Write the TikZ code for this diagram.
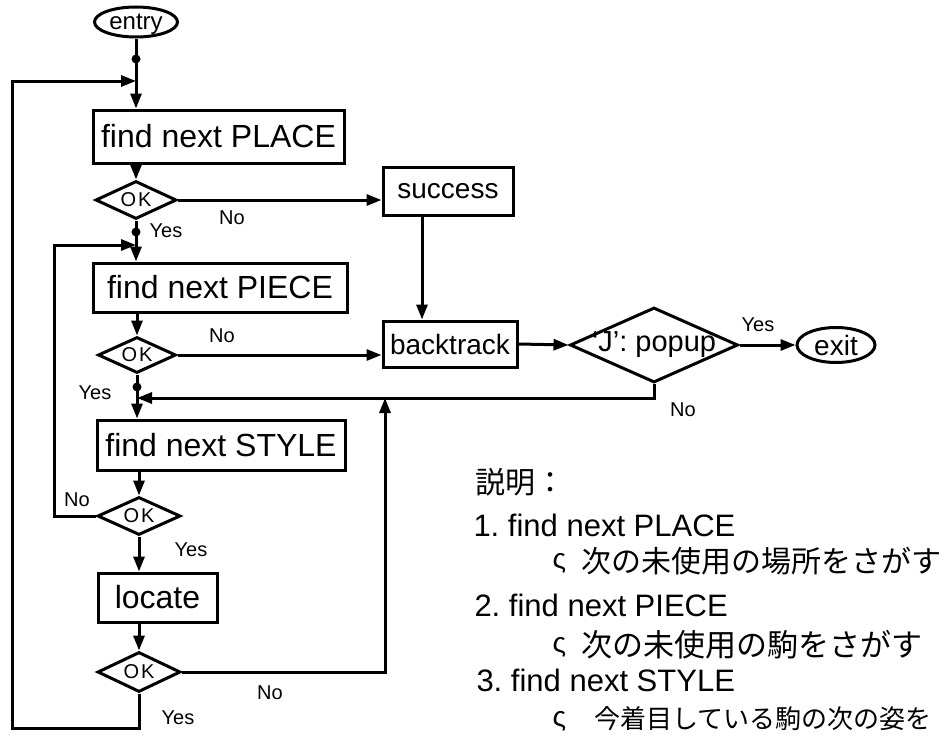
\documentclass[tikz,border=0pt]{standalone}
\usepackage{fontspec}
\setmainfont{Liberation Sans}
\newfontfamily\jpfont{Noto Sans CJK JP}
\usetikzlibrary{shapes.geometric,arrows.meta}
\begin{document}
\begin{tikzpicture}[x=1pt,y=-1pt,
  line width=3pt,
  >={Triangle[length=15pt,width=11pt]},
  box/.style={draw, rectangle, inner sep=0pt, font=\fontsize{32}{32}\selectfont},
  dec/.style={draw, diamond, inner sep=0pt},
  term/.style={draw, ellipse, inner sep=0pt},
  lab/.style={font=\fontsize{20}{20}\selectfont, inner sep=0pt},
  dotnode/.style={circle, fill, inner sep=0pt, minimum size=9pt},
  big/.style={font=\fontsize{31}{31}\selectfont, inner sep=0pt},
  oktext/.style={font=\fontsize{20}{20}\selectfont, inner sep=0pt},
]
\useasboundingbox[fill=white] (0,0) rectangle (940,736);

% main column
\node[term, minimum width=83pt, minimum height=30pt,
  label={[font=\fontsize{24}{24}\selectfont, inner sep=0pt, yshift=-2pt]center:entry}] (entry) at (136,22) {};
\node[dotnode] (c0) at (136,59) {};
\coordinate (j0) at (136,81);
\node[box, minimum width=251pt, minimum height=53pt] (place) at (218.5,136.5) {find next PLACE};
\node[dec, minimum width=81pt, minimum height=38pt,
  label={[oktext]center:O\kern2pt K}] (ok1) at (136,200) {};
\node[dotnode] (c1) at (136,232) {};
\coordinate (j1) at (136,245);
\node[box, minimum width=254pt, minimum height=49pt] (piece) at (220,287.5) {find next PIECE};
\node[dec, minimum width=78pt, minimum height=36pt,
  label={[oktext]center:O\kern2pt K}] (ok2) at (137,355) {};
\node[dotnode] (c2) at (137,387) {};
\coordinate (j2) at (137,398);
\node[box, minimum width=248pt, minimum height=50pt] (style) at (221,445) {find next STYLE};
\node[dec, minimum width=83pt, minimum height=38pt,
  label={[oktext]center:O\kern2pt K}] (ok3) at (139,516) {};
\node[box, minimum width=119pt, minimum height=49pt] (locate) at (157.5,597.5) {locate};
\node[dec, minimum width=83pt, minimum height=40pt,
  label={[oktext]center:O\kern2pt K}] (ok4) at (139,672) {};

% right part
\node[box, minimum width=130pt, minimum height=48pt, font=\fontsize{28}{28}\selectfont] (success) at (448,191) {success};
\node[box, minimum width=134pt, minimum height=46pt, font=\fontsize{28}{28}\selectfont] (backtrack) at (450,344) {backtrack};
\node[dec, minimum width=168pt, minimum height=75pt,
  label={[font=\fontsize{29}{29}\selectfont]center:{‘J’: popup}}] (popup) at (654,345) {};
\node[term, minimum width=78pt, minimum height=35pt,
  label={[font=\fontsize{28}{28}\selectfont]center:exit}] (exit) at (836,345) {};

\coordinate (outerL) at (12,728);
\coordinate (innerL) at (54,516);
\coordinate (upR) at (385,398);

% connectors
\draw (entry.south) -- (c0.center) -- (j0);
\draw[->] (j0) -- (j0 |- place.north);
\draw[->] (ok1.north |- place.south) -- (ok1.north);
\draw (ok1.south) -- (c1.center) -- (j1);
\draw[->] (j1) -- (j1 |- piece.north);
\draw[->] (ok2.north |- piece.south) -- (ok2.north);
\draw (ok2.south) -- (c2.center) -- (j2);
\draw[->] (j2) -- (j2 |- style.north);
\draw[->] (ok3.north |- style.south) -- (ok3.north);
\draw[->] (ok3.south) -- (ok3.south |- locate.north);
\draw[->] (ok4.north |- locate.south) -- (ok4.north);

\draw[->] (ok1.east) -- (ok1.east -| success.west);
\draw[->] ([xshift=-26pt]success.south) -- ([xshift=-26pt]success.south |- backtrack.north);
\draw[->] (ok2.east) -- (ok2.east -| backtrack.west);
\draw[->] (backtrack.east) -- (popup.west);
\draw[->] (popup.east) -- (exit.west);
\draw[->] (popup.south) |- (j2);

\draw[->] (ok3.west) -- (ok3.west -| innerL) |- (j1);
\draw[->] (ok4.east) -| (upR);
\draw[->] (ok4.south) |- (outerL) |- (j0);

% connector labels
\node[lab] (n1) at (232,218) {No};
\node[lab] (y1) at (166,231) {Yes};
\node[lab] (n2) at (222,336) {No};
\node[lab] (y2) at (95,393) {Yes};
\node[lab] (n3) at (77,500) {No};
\node[lab] (y3) at (191,550) {Yes};
\node[lab] (n4) at (270,693) {No};
\node[lab] (y4) at (178,718) {Yes};
\node[lab] (y5) at (758,325) {Yes};
\node[lab] (n5) at (683,410) {No};

% explanation
\node[anchor=west, inner sep=0pt, font=\jpfont\fontsize{30}{30}\selectfont] (title) at (474,482) {説明：};
\node[big, anchor=base west] (e1) at (472,536) {1.\ find next PLACE};
\node[anchor=west, inner sep=0pt, font=\fontsize{28}{28}\selectfont] (m1) at (551,563) {ς};
\node[anchor=west, inner sep=0pt, font=\jpfont\fontsize{30}{30}\selectfont] (d1) at (580,561) {次の未使用の場所をさがす};
\node[big, anchor=base west] (e2) at (473,616) {2.\ find next PIECE};
\node[anchor=west, inner sep=0pt, font=\fontsize{28}{28}\selectfont] (m2) at (551,647) {ς};
\node[anchor=west, inner sep=0pt, font=\jpfont\fontsize{31}{31}\selectfont] (d2) at (580,645) {次の未使用の駒をさがす};
\node[big, anchor=base west] (e3) at (475,691) {3.\ find next STYLE};
\node[anchor=west, inner sep=0pt, font=\fontsize{28}{28}\selectfont] (m3) at (551,721) {ς};
\node[anchor=west, inner sep=0pt, font=\jpfont\fontsize{26}{26}\selectfont] (d3) at (593,719) {今着目している駒の次の姿を};
\end{tikzpicture}
\end{document}
